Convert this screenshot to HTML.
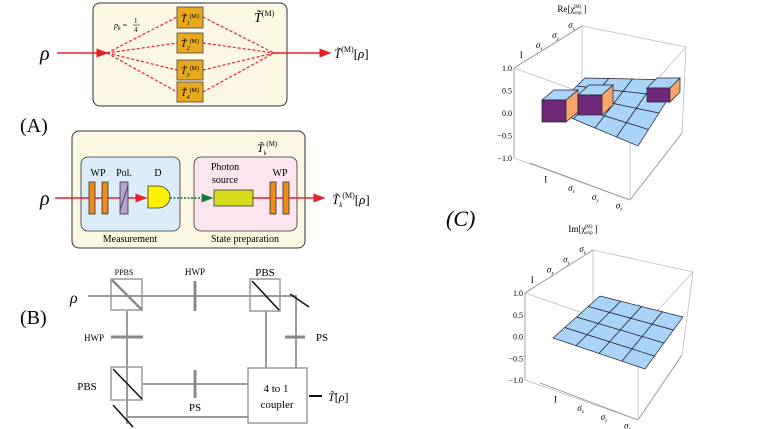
<!DOCTYPE html>
<html><head><meta charset="utf-8"><style>
body{margin:0;background:#fff;}
svg{display:block;font-family:"Liberation Serif",serif;}
</style></head><body>
<svg id="s" width="763" height="429" viewBox="0 0 763 429" xmlns="http://www.w3.org/2000/svg">
<defs>
<marker id="ar" markerWidth="8" markerHeight="6" refX="7" refY="3" orient="auto"><path d="M0,0 L8,3 L0,6 z" fill="#e8202a"/></marker>
<marker id="ag" markerWidth="8" markerHeight="6" refX="7" refY="3" orient="auto"><path d="M0,0 L8,3 L0,6 z" fill="#1a7a3a"/></marker>
</defs>
<rect x="93" y="3" width="194" height="103" rx="7" fill="#fcf8e3" stroke="#333" stroke-width="1"/>
<text x="40" y="60" font-size="20" font-style="italic">ρ</text>
<line x1="57" y1="53" x2="107" y2="53" stroke="#e8202a" stroke-width="1.5" marker-end="url(#ar)"/>
<g stroke="#e8202a" stroke-width="1.2" stroke-dasharray="3,2" fill="none">
<line x1="107" y1="53" x2="177" y2="17"/><line x1="107" y1="53" x2="177" y2="43"/><line x1="107" y1="53" x2="177" y2="70"/><line x1="107" y1="53" x2="177" y2="92"/>
<line x1="203" y1="17" x2="274" y2="53"/><line x1="203" y1="43" x2="274" y2="53"/><line x1="203" y1="70" x2="274" y2="53"/><line x1="203" y1="92" x2="274" y2="53"/>
</g>
<line x1="274" y1="53" x2="330" y2="53" stroke="#e8202a" stroke-width="1.5" marker-end="url(#ar)"/>
<g fill="#e8a820" stroke="#444" stroke-width="0.8">
<rect x="177" y="7" width="26" height="21"/><rect x="177" y="33" width="26" height="20"/><rect x="177" y="60" width="26" height="20"/><rect x="177" y="82" width="26" height="20"/>
</g>
<g font-size="10" font-style="italic">
<text x="181" y="22">T̃<tspan font-size="6" dy="3">1</tspan><tspan font-size="6" dy="-7" font-style="normal">(M)</tspan></text>
<text x="181" y="47">T̃<tspan font-size="6" dy="3">2</tspan><tspan font-size="6" dy="-7" font-style="normal">(M)</tspan></text>
<text x="181" y="74">T̃<tspan font-size="6" dy="3">3</tspan><tspan font-size="6" dy="-7" font-style="normal">(M)</tspan></text>
<text x="181" y="96">T̃<tspan font-size="6" dy="3">4</tspan><tspan font-size="6" dy="-7" font-style="normal">(M)</tspan></text>
</g>
<text x="114" y="28" font-size="8" font-style="italic">p<tspan font-size="6" dy="2">k</tspan><tspan dy="-2" font-style="normal"> =</tspan></text>
<text x="134" y="23" font-size="7">1</text><line x1="133" y1="25" x2="140" y2="25" stroke="#000" stroke-width="0.5"/><text x="134" y="32" font-size="7">4</text>
<text x="254" y="22" font-size="14" font-style="italic">T̃<tspan font-size="8" dy="-6" font-style="normal">(M)</tspan></text>
<text x="334" y="58" font-size="13" font-style="italic">T̃<tspan font-size="8" dy="-6" font-style="normal">(M)</tspan><tspan dy="6" font-style="normal">[</tspan>ρ<tspan font-style="normal">]</tspan></text>
<text x="20" y="132" font-size="20">(A)</text>
<rect x="72" y="131" width="233" height="117" rx="7" fill="#fcf8e3" stroke="#333" stroke-width="1"/>
<rect x="81" y="157" width="99" height="74" rx="7" fill="#dcedf9" stroke="#333" stroke-width="0.8"/>
<rect x="194" y="157" width="103" height="74" rx="7" fill="#fbe5ee" stroke="#333" stroke-width="0.8"/>
<text x="257" y="152" font-size="12" font-style="italic">T̃<tspan font-size="6" dy="3">k</tspan><tspan font-size="7" dy="-9" font-style="normal">(M)</tspan></text>
<text x="40" y="205" font-size="20" font-style="italic">ρ</text>
<line x1="55" y1="198" x2="146" y2="198" stroke="#e8202a" stroke-width="1.5" marker-end="url(#ar)"/>
<line x1="170" y1="198" x2="212" y2="198" stroke="#1a7a3a" stroke-width="1.5" stroke-dasharray="2,1.5" marker-end="url(#ag)"/>
<line x1="253" y1="198" x2="324" y2="198" stroke="#e8202a" stroke-width="1.5" marker-end="url(#ar)"/>
<g fill="#f08c1c" stroke="#333" stroke-width="0.8">
<rect x="89" y="182" width="6" height="32"/><rect x="102" y="182" width="6" height="32"/>
<rect x="270" y="182" width="6" height="32"/><rect x="283" y="182" width="6" height="32"/>
</g>
<rect x="120" y="182" width="8" height="32" fill="#b8a2cf" stroke="#333" stroke-width="0.8"/>
<line x1="120" y1="210" x2="128" y2="186" stroke="#333" stroke-width="0.8"/>
<path d="M148,186 L158,186 A12,11 0 0 1 158,208 L148,208 z" fill="#fff200" stroke="#333" stroke-width="0.8"/>
<rect x="214" y="190" width="39" height="16" fill="#d5dc1d" stroke="#333" stroke-width="0.8"/>
<g font-size="10" text-anchor="middle">
<text x="98" y="176">WP</text><text x="124" y="176">Pol.</text><text x="158" y="176">D</text>
<text x="225" y="170">Photon</text><text x="225" y="183">source</text><text x="280" y="176">WP</text>
<text x="130" y="242">Measurement</text><text x="245" y="242">State preparation</text>
</g>
<text x="332" y="204" font-size="13" font-style="italic">T̃<tspan font-size="7" dy="3">k</tspan><tspan font-size="8" dy="-9" font-style="normal">(M)</tspan><tspan dy="6" font-style="normal">[</tspan>ρ<tspan font-style="normal">]</tspan></text>
<text x="20" y="324" font-size="20">(B)</text>
<text x="70" y="303" font-size="16" font-style="italic">ρ</text>
<g stroke="#9a9a9a" stroke-width="2" fill="none">
<line x1="88" y1="296" x2="297" y2="296"/>
<line x1="296" y1="296" x2="296" y2="368"/>
<line x1="266" y1="311" x2="266" y2="368"/>
<line x1="127" y1="311" x2="127" y2="424"/>
<line x1="142" y1="384" x2="248" y2="384"/>
<line x1="127" y1="417" x2="248" y2="417"/>
<rect x="111" y="279" width="31" height="31" stroke-width="1.5"/>
<rect x="250" y="279" width="30" height="32" stroke-width="1.5"/>
<rect x="111" y="367" width="31" height="33" stroke-width="1.5"/>
<rect x="248" y="368" width="59" height="55" fill="#fff" stroke-width="1.5"/>
<line x1="112" y1="280" x2="142" y2="310" stroke="#888" stroke-width="2.5"/>
</g>
<g stroke="#888" stroke-width="3">
<line x1="195" y1="281" x2="195" y2="311"/><line x1="195" y1="370" x2="195" y2="398"/>
<line x1="111" y1="337" x2="143" y2="337"/><line x1="285" y1="337" x2="305" y2="337"/>
</g>
<g stroke="#111" stroke-width="1.5">
<line x1="252" y1="281" x2="279" y2="310"/><line x1="113" y1="369" x2="142" y2="399"/>
<line x1="290" y1="294" x2="309" y2="307"/><line x1="113" y1="405" x2="133" y2="427"/>
<line x1="309" y1="396" x2="322" y2="396" stroke-width="2"/>
</g>
<g font-size="9" text-anchor="middle">
<text x="124" y="275" font-size="8">PPBS</text><text x="195" y="275">HWP</text><text x="265" y="276" font-size="11">PBS</text>
<text x="94" y="341">HWP</text><text x="322" y="341" font-size="11">PS</text><text x="87" y="390" font-size="11">PBS</text>
<text x="195" y="411" font-size="11">PS</text><text x="276" y="392" font-size="11">4 to 1</text><text x="277" y="408" font-size="11">coupler</text>
</g>
<text x="328" y="401" font-size="12" font-style="italic">T̃<tspan font-style="normal">[</tspan>ρ<tspan font-style="normal">]</tspan></text>
<text x="446" y="226" font-size="22" font-style="italic">(C)</text>
<g id="plots"></g>
</svg>
<script>
var g=document.getElementById('plots'),NS="http://www.w3.org/2000/svg";
function el(t,a,txt){var e=document.createElementNS(NS,t);for(var k in a)e.setAttribute(k,a[k]);if(txt)e.textContent=txt;g.appendChild(e);return e;}
function L(a,b,c){el('line',{x1:a[0],y1:a[1],x2:b[0],y2:b[1],stroke:c||'#bbb','stroke-width':0.8});}
function bil(P,u,v){var x=(1-u)*(1-v)*P[0][0]+u*(1-v)*P[1][0]+u*v*P[2][0]+(1-u)*v*P[3][0];var y=(1-u)*(1-v)*P[0][1]+u*(1-v)*P[1][1]+u*v*P[2][1]+(1-u)*v*P[3][1];return [x,y];}
function sig(x,y,s){var t=el('text',{x:x,y:y,'font-size':9,'font-style':'italic'});
 if(s===''){t.textContent='I';t.setAttribute('font-style','normal');return;}
 var a=document.createElementNS(NS,'tspan');a.textContent='σ';t.appendChild(a);
 var b=document.createElementNS(NS,'tspan');b.setAttribute('font-size',5);b.setAttribute('dy',2);b.textContent=s;t.appendChild(b);}
function plot(oy,title,plane,cubes){
 var axL=[514,68],axLb=[514,158],back=[582,26],rt=[686,47],rb=[682,133],fb=[630,200],lb=[530,163],fbT=[630,110];
 if(oy>0){axL=[525,293];axLb=[525,380];back=[593,250];rt=[693,272];rb=[682,355];fb=[638,420];lb=[540,383];fbT=[638,332];}
 L(axL,back,'#888');L(back,rt);L(axL,axLb,'#888');L(axLb,fb);L(lb,fb,'#888');L(fb,rb,'#888');L(rb,rt);L(axL,fbT);L(fbT,rt);L(fbT,fb);L(back,[back[0],back[1]+88]);
 var labs=['1.0','0.5','0.0','\u22120.5','\u22121.0'];
 for(var i=0;i<5;i++){var y=axL[1]+(axLb[1]-axL[1])*i/4;el('text',{x:axL[0]-2,y:y+3,'font-size':8,'text-anchor':'end'},labs[i]);}
 var top=['','x','y','z'];
 for(i=0;i<4;i++){var p=[axL[0]+(back[0]-axL[0])*(i+0.6)/4.2-4,axL[1]+(back[1]-axL[1])*(i+0.6)/4.2-4];sig(p[0],p[1],top[i]);}
 for(i=0;i<4;i++){var p=[lb[0]+(fb[0]-lb[0])*(i+0.6)/4.2,lb[1]+(fb[1]-lb[1])*(i+0.6)/4.2+14];sig(p[0],p[1],top[i]);}
 var t=el('text',{x:back[0]-10,y:(oy>0?232:12),'font-size':9,'text-anchor':'middle'});
 t.textContent=title+'[χ';var s1=document.createElementNS(NS,'tspan');s1.setAttribute('font-size',5);s1.setAttribute('dy',2);s1.textContent='exp';t.appendChild(s1);
 var s2=document.createElementNS(NS,'tspan');s2.setAttribute('font-size',5);s2.setAttribute('dx',-8);s2.setAttribute('dy',-6);s2.textContent='(M)';t.appendChild(s2);
 var s3=document.createElementNS(NS,'tspan');s3.setAttribute('dy',4);s3.textContent=' ]';t.appendChild(s3);
 for(var a=0;a<4;a++)for(var b=0;b<4;b++){var q=[bil(plane,a/4,b/4),bil(plane,(a+1)/4,b/4),bil(plane,(a+1)/4,(b+1)/4),bil(plane,a/4,(b+1)/4)];
  el('polygon',{points:q.map(function(p){return p.join(',')}).join(' '),fill:'#a9d3f7',stroke:'#223',"stroke-width":0.7});}
 cubes.forEach(function(c){var x=c[0],y=c[1],w=c[2],h=c[3],d=c[4];
  el('polygon',{points:[[x,y],[x+d,y-10],[x+w+d,y-10],[x+w,y]].map(function(p){return p.join(',')}).join(' '),fill:'#a9d3f7',stroke:'#223','stroke-width':0.7});
  el('rect',{x:x,y:y,width:w,height:h,fill:'#6e2a78',stroke:'#223','stroke-width':0.7});
  el('polygon',{points:[[x+w,y],[x+w+d,y-10],[x+w+d,y+h-10],[x+w,y+h]].map(function(p){return p.join(',')}).join(' '),fill:'#f7a56a',stroke:'#223','stroke-width':0.7});});
}
plot(0,'Re',[[552,110],[585,78],[680,80],[638,146]],[[542,100,24,22,12],[578,95,24,20,11],[647,88,23,14,10]]);
plot(220,'Im',[[553,338],[600,296],[683,317],[645,369]],[]);
</script>
</body></html>
